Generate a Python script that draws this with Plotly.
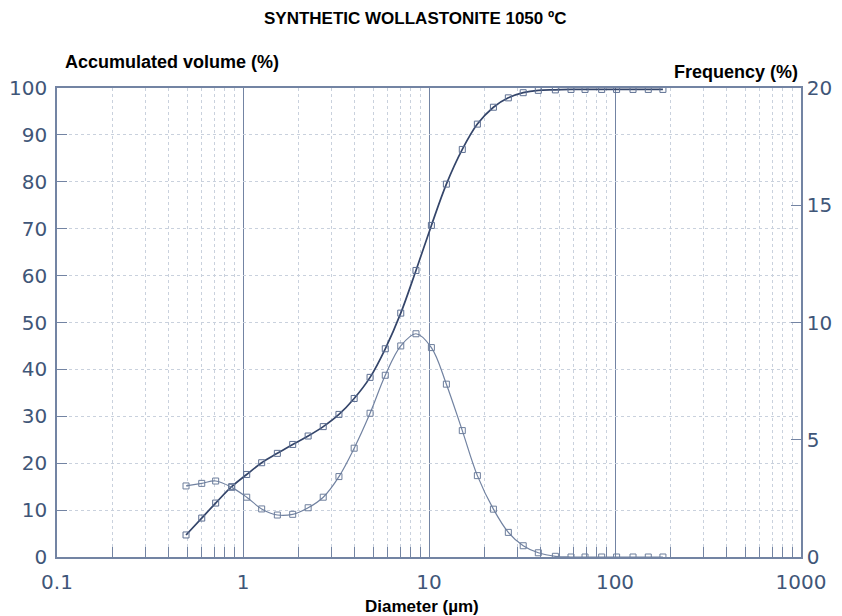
import plotly.graph_objects as go

diameter_um = [0.494, 0.600, 0.713, 0.869, 1.047, 1.26, 1.53, 1.85, 2.24, 2.70, 3.28, 3.96,
               4.82, 5.82, 7.05, 8.51, 10.3, 12.4, 15.1, 18.2, 22.2, 26.7, 32.1, 38.7,
               47.8, 58.0, 69.0, 84.8, 102, 125, 151, 181]
accumulated_pct = [4.7, 8.3, 11.5, 15.0, 17.6, 20.1, 22.1, 24.0, 25.8, 27.8, 30.4, 33.8,
                   38.3, 44.4, 52.0, 61.1, 70.7, 79.5, 86.9, 92.3, 95.9, 97.9, 99.0, 99.5,
                   99.6, 99.7, 99.7, 99.7, 99.7, 99.7, 99.7, 99.7]
frequency_pct = [3.03, 3.14, 3.24, 2.97, 2.55, 2.05, 1.79, 1.82, 2.10, 2.55, 3.43, 4.64,
                 6.13, 7.75, 9.00, 9.52, 8.93, 7.37, 5.39, 3.47, 2.04, 1.05, 0.48, 0.18,
                 0.03, 0.0, 0.0, 0.0, 0.0, 0.0, 0.0, 0.0]
x_tick_vals = [0.1, 1, 10, 100, 1000]
x_tick_text = ["0.1", "1", "10", "100", "1000"]
x_minor_vals = [m * 10.0 ** e for e in (-1, 0, 1, 2) for m in range(2, 10)]
left_ticks = [0, 10, 20, 30, 40, 50, 60, 70, 80, 90, 100]
right_ticks = [0, 5, 10, 15, 20]

TICK_COL = "#3f5678"
GRID_LIGHT = "#c9d1dd"
MAJOR = "#7384a3"
FONT = "Liberation Sans, Arial, sans-serif"
TFONT = dict(size=20, color=TICK_COL, family="DejaVu Sans, sans-serif")

fig = go.Figure()
fig.add_trace(go.Scatter(
    x=diameter_um, y=accumulated_pct, mode="lines+markers", line_shape="spline",
    line=dict(color="#34456a", width=1.7),
    marker=dict(symbol="square-open", size=6, color="#5d6f92", line=dict(width=1)),
    yaxis="y", showlegend=False))
fig.add_trace(go.Scatter(
    x=diameter_um, y=frequency_pct, mode="lines+markers", line_shape="spline",
    line=dict(color="#7182a1", width=1.2),
    marker=dict(symbol="square-open", size=6, color="#6d7e9c", line=dict(width=1)),
    yaxis="y2", showlegend=False))

# page body has an 8px default margin, so the figure is sized to fit the window
fig.update_layout(
    width=834, height=608,
    margin=dict(l=49, r=41, t=80, b=59),
    paper_bgcolor="white", plot_bgcolor="white",
    font=dict(family=FONT, color=TICK_COL),
    xaxis=dict(type="log", range=[-1, 3], tickvals=x_tick_vals, ticktext=x_tick_text,
               showgrid=True, gridcolor=MAJOR, gridwidth=1, automargin=False,
               ticks="", tickfont=TFONT, ticklabelstandoff=6,
               showline=True, linecolor=MAJOR, linewidth=1.5, mirror=True,
               minor=dict(tickvals=x_minor_vals, showgrid=True, gridcolor=GRID_LIGHT,
                          griddash="dot", gridwidth=1,
                          ticks="inside", ticklen=10, tickcolor=MAJOR, tickwidth=1),
               zeroline=False),
    yaxis=dict(range=[0, 100], tickvals=left_ticks, showgrid=True, gridcolor=GRID_LIGHT,
               griddash="dot", ticks="inside", ticklen=10, tickcolor=MAJOR, automargin=False,
               tickfont=TFONT, ticklabelstandoff=4,
               showline=True, linecolor=MAJOR, linewidth=1.5, zeroline=False),
    yaxis2=dict(range=[0, 20], tickvals=right_ticks, overlaying="y", side="right",
                showgrid=False, ticks="inside", ticklen=10, tickcolor=MAJOR, automargin=False,
                tickfont=TFONT,
                showline=True, linecolor=MAJOR, linewidth=1.5, zeroline=False),
    annotations=[
        dict(text="<b>SYNTHETIC WOLLASTONITE 1050 ºC</b>", xref="paper", yref="paper",
             x=0.4825, y=1.149, xanchor="center", yanchor="middle", showarrow=False,
             font=dict(size=17, color="black", family=FONT)),
        dict(text="<b>Accumulated volume (%)</b>", xref="paper", yref="paper",
             x=0.008, y=1.0554, xanchor="left", yanchor="middle", showarrow=False,
             font=dict(size=18, color="black", family=FONT)),
        dict(text="<b>Frequency (%)</b>", xref="paper", yref="paper",
             x=0.9987, y=1.034, xanchor="right", yanchor="middle", showarrow=False,
             font=dict(size=18, color="black", family=FONT)),
        dict(text="<b>Diameter (µm)</b>", xref="paper", yref="paper",
             x=0.49, y=-0.1045, xanchor="center", yanchor="middle", showarrow=False,
             font=dict(size=17, color="black", family=FONT)),
    ],
)

fig.write_html("out.html")
